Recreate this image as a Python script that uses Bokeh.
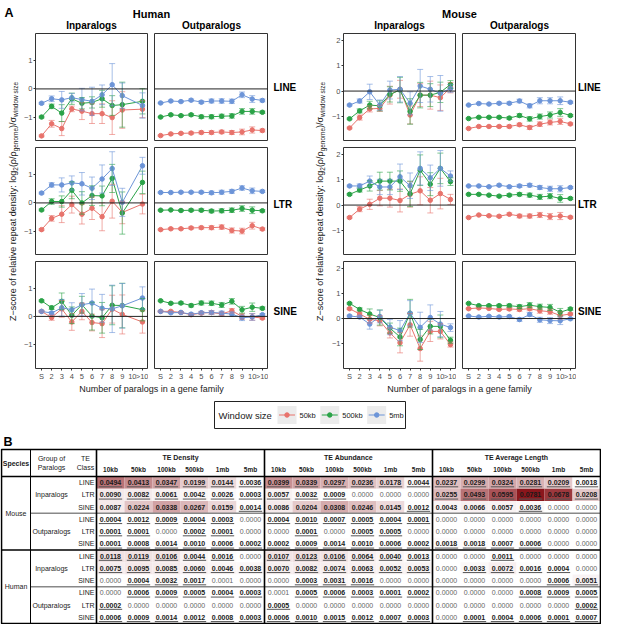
import numpy as np
from bokeh.plotting import figure
from bokeh.models import Range1d, FixedTicker, ColumnDataSource, Whisker, TeeHead, Span
from bokeh.layouts import row, column
from bokeh.embed import file_html
from bokeh.resources import INLINE
from bokeh.core.properties import value

FONT = "Liberation Sans"

# ---------------------------------------------------------------- data (panel A)
CATEGORIES = ["S", "2", "3", "4", "5", "6", "7", "8", "9", "10", ">10"]
HUMAN_IN_CATS = ["S", "2", "3", "4", "5", "6", "7", "8", "9", ">10"]
WINDOW_SIZES = ["50kb", "500kb", "5mb"]
TE_CLASSES = ["LINE", "LTR", "SINE"]
GROUPS = ["Inparalogs", "Outparalogs"]
SPECIES_A = ["Human", "Mouse"]

# Human - Inparalogs (no family of size 10)
h_in_line_50kb = [-1.67, -1.24, -1.41, -0.71, -0.79, -0.88, -0.88, -1.02, -0.75, -0.72]
h_in_line_50kb_err = [0.03, 0.12, 0.25, 0.10, 0.30, 0.35, 0.35, 0.60, 0.65, 0.30]
h_in_line_500kb = [-1.00, -0.62, -0.86, -0.35, -0.51, -0.48, -0.35, -0.59, -0.56, -0.44]
h_in_line_500kb_err = [0.03, 0.08, 0.30, 0.20, 0.20, 0.20, 0.30, 0.35, 0.80, 0.45]
h_in_line_5mb = [-0.51, -0.35, -0.39, -0.31, -0.38, -0.44, -0.21, 0.15, -0.24, -0.59]
h_in_line_5mb_err = [0.03, 0.10, 0.30, 0.15, 0.40, 0.50, 0.35, 0.75, 0.45, 0.45]

h_in_ltr_50kb = [-0.95, -0.55, -0.40, -0.06, -0.40, -0.19, -0.49, 0.06, -0.34, -0.04]
h_in_ltr_50kb_err = [0.03, 0.10, 0.30, 0.30, 0.35, 0.40, 0.50, 0.60, 0.40, 0.35]
h_in_ltr_500kb = [-0.25, 0.05, 0.05, 0.45, 0.00, 0.26, 0.25, 0.87, -0.36, 0.73]
h_in_ltr_500kb_err = [0.03, 0.10, 0.20, 0.30, 0.40, 0.35, 0.35, 0.50, 0.75, 0.40]
h_in_ltr_5mb = [0.35, 0.64, 0.64, 0.71, 0.68, 0.52, 0.85, 1.22, 0.02, 1.32]
h_in_ltr_5mb_err = [0.03, 0.08, 0.25, 0.25, 0.40, 0.40, 0.50, 0.60, 0.50, 0.30]

h_in_sine_50kb = [0.18, -0.04, 0.27, -0.20, 0.18, -0.22, -0.26, 0.26, 0.07, -0.20]
h_in_sine_50kb_err = [0.03, 0.10, 0.30, 0.30, 0.30, 0.30, 0.50, 0.50, 0.70, 0.40]
h_in_sine_500kb = [0.56, 0.31, 0.54, 0.04, 0.42, 0.01, -0.05, 0.40, 0.39, 0.24]
h_in_sine_500kb_err = [0.03, 0.06, 0.30, 0.30, 0.30, 0.50, 0.55, 0.70, 0.80, 0.40]
h_in_sine_5mb = [0.18, 0.12, 0.31, 0.24, 0.42, 0.48, 0.29, 0.27, 0.38, 0.66]
h_in_sine_5mb_err = [0.03, 0.05, 0.30, 0.25, 0.40, 0.50, 0.50, 0.85, 0.80, 0.40]

# Human - Outparalogs
h_out_line_50kb = [-1.66, -1.60, -1.58, -1.57, -1.55, -1.55, -1.53, -1.55, -1.53, -1.46, -1.48]
h_out_line_50kb_err = [0.02, 0.03, 0.03, 0.04, 0.05, 0.06, 0.06, 0.07, 0.10, 0.11, 0.05]
h_out_line_500kb = [-1.00, -0.92, -0.95, -0.92, -0.99, -0.99, -0.97, -0.96, -0.80, -0.80, -0.83]
h_out_line_500kb_err = [0.02, 0.03, 0.03, 0.04, 0.06, 0.07, 0.07, 0.08, 0.10, 0.10, 0.04]
h_out_line_5mb = [-0.50, -0.43, -0.45, -0.40, -0.47, -0.43, -0.43, -0.44, -0.21, -0.36, -0.41]
h_out_line_5mb_err = [0.02, 0.03, 0.03, 0.04, 0.05, 0.07, 0.08, 0.08, 0.10, 0.12, 0.05]

h_out_ltr_50kb = [-0.95, -0.92, -0.92, -0.89, -0.88, -0.88, -0.86, -0.98, -1.00, -0.81, -0.93]
h_out_ltr_50kb_err = [0.02, 0.03, 0.03, 0.04, 0.05, 0.07, 0.08, 0.09, 0.10, 0.12, 0.04]
h_out_ltr_500kb = [-0.26, -0.25, -0.27, -0.26, -0.26, -0.29, -0.28, -0.26, -0.20, -0.26, -0.28]
h_out_ltr_500kb_err = [0.02, 0.02, 0.03, 0.04, 0.05, 0.06, 0.07, 0.08, 0.10, 0.12, 0.04]
h_out_ltr_5mb = [0.37, 0.37, 0.38, 0.38, 0.38, 0.36, 0.38, 0.41, 0.53, 0.43, 0.41]
h_out_ltr_5mb_err = [0.02, 0.02, 0.03, 0.03, 0.04, 0.06, 0.07, 0.07, 0.08, 0.10, 0.04]

h_out_sine_50kb = [0.18, 0.18, 0.14, 0.06, 0.12, 0.14, 0.09, 0.20, 0.00, -0.02, -0.06]
h_out_sine_50kb_err = [0.02, 0.03, 0.03, 0.04, 0.05, 0.06, 0.07, 0.08, 0.10, 0.12, 0.04]
h_out_sine_500kb = [0.56, 0.47, 0.48, 0.39, 0.48, 0.47, 0.41, 0.54, 0.24, 0.33, 0.29]
h_out_sine_500kb_err = [0.02, 0.03, 0.04, 0.05, 0.07, 0.08, 0.09, 0.10, 0.12, 0.15, 0.05]
h_out_sine_5mb = [0.18, 0.13, 0.14, 0.08, 0.13, 0.14, 0.12, 0.08, -0.05, -0.02, 0.06]
h_out_sine_5mb_err = [0.02, 0.03, 0.03, 0.04, 0.05, 0.06, 0.07, 0.08, 0.10, 0.12, 0.04]

# Mouse - Inparalogs
m_in_line_50kb = [-1.45, -1.04, -0.70, -0.68, -0.16, 0.07, -0.94, -0.16, -0.16, -0.26, 0.13]
m_in_line_50kb_err = [0.03, 0.10, 0.12, 0.12, 0.35, 0.35, 0.35, 0.45, 0.55, 0.50, 0.20]
m_in_line_500kb = [-1.09, -0.78, -0.55, -0.58, -0.13, 0.04, -0.80, -0.16, -0.16, -0.05, 0.26]
m_in_line_500kb_err = [0.03, 0.08, 0.15, 0.20, 0.30, 0.50, 0.50, 0.50, 0.45, 0.40, 0.15]
m_in_line_5mb = [-0.55, -0.39, -0.03, -0.55, 0.04, 0.07, -0.48, 0.20, 0.07, -0.09, 0.10]
m_in_line_5mb_err = [0.03, 0.08, 0.30, 0.20, 0.35, 0.50, 0.45, 0.65, 0.50, 0.70, 0.15]

m_in_ltr_50kb = [-0.49, -0.16, 0.03, 0.27, 0.27, 0.18, 0.42, 0.56, 0.19, 0.45, 0.22]
m_in_ltr_50kb_err = [0.03, 0.10, 0.20, 0.30, 0.35, 0.45, 0.50, 0.55, 0.50, 0.60, 0.20]
m_in_ltr_500kb = [0.42, 0.59, 0.75, 0.94, 0.94, 0.94, 0.44, 1.37, 0.82, 1.44, 0.92]
m_in_ltr_500kb_err = [0.03, 0.08, 0.20, 0.35, 0.35, 0.40, 0.50, 0.60, 0.45, 0.60, 0.15]
m_in_ltr_5mb = [0.75, 0.75, 0.94, 0.71, 0.71, 1.11, 0.76, 1.44, 1.07, 1.44, 1.14]
m_in_ltr_5mb_err = [0.03, 0.08, 0.20, 0.30, 0.30, 0.50, 0.50, 0.65, 0.50, 0.70, 0.20]

m_in_sine_50kb = [0.39, 0.18, -0.03, -0.09, -0.57, -0.96, -0.25, -1.19, -0.51, -0.51, -1.03]
m_in_sine_50kb_err = [0.03, 0.08, 0.15, 0.20, 0.20, 0.40, 0.45, 0.50, 0.40, 0.30, 0.10]
m_in_sine_500kb = [0.60, 0.36, 0.18, 0.04, -0.38, -0.73, 0.21, -0.83, -0.31, -0.31, -0.86]
m_in_sine_500kb_err = [0.03, 0.06, 0.20, 0.30, 0.20, 0.35, 0.55, 0.40, 0.30, 0.45, 0.12]
m_in_sine_5mb = [0.10, 0.06, -0.22, 0.08, -0.34, -0.48, 0.21, -0.35, 0.04, -0.22, -0.36]
m_in_sine_5mb_err = [0.03, 0.05, 0.20, 0.25, 0.30, 0.40, 0.50, 0.60, 0.50, 0.50, 0.15]

# Mouse - Outparalogs
m_out_line_50kb = [-1.47, -1.39, -1.39, -1.39, -1.39, -1.32, -1.43, -1.30, -1.23, -1.19, -1.29]
m_out_line_50kb_err = [0.02, 0.03, 0.03, 0.04, 0.05, 0.06, 0.08, 0.09, 0.10, 0.12, 0.04]
m_out_line_500kb = [-1.08, -1.03, -1.03, -1.03, -1.06, -0.96, -1.09, -1.00, -0.94, -0.84, -0.96]
m_out_line_500kb_err = [0.02, 0.03, 0.03, 0.04, 0.05, 0.07, 0.09, 0.10, 0.12, 0.15, 0.04]
m_out_line_5mb = [-0.55, -0.49, -0.51, -0.48, -0.48, -0.39, -0.58, -0.38, -0.38, -0.38, -0.44]
m_out_line_5mb_err = [0.02, 0.03, 0.03, 0.04, 0.05, 0.07, 0.08, 0.12, 0.12, 0.15, 0.04]

m_out_ltr_50kb = [-0.49, -0.39, -0.42, -0.44, -0.36, -0.43, -0.43, -0.39, -0.45, -0.43, -0.48]
m_out_ltr_50kb_err = [0.02, 0.03, 0.03, 0.04, 0.05, 0.07, 0.08, 0.10, 0.12, 0.14, 0.04]
m_out_ltr_500kb = [0.42, 0.42, 0.39, 0.35, 0.39, 0.42, 0.39, 0.32, 0.35, 0.26, 0.26]
m_out_ltr_500kb_err = [0.02, 0.03, 0.03, 0.04, 0.05, 0.06, 0.08, 0.10, 0.10, 0.15, 0.04]
m_out_ltr_5mb = [0.75, 0.75, 0.72, 0.78, 0.72, 0.75, 0.78, 0.69, 0.64, 0.64, 0.69]
m_out_ltr_5mb_err = [0.02, 0.03, 0.03, 0.04, 0.05, 0.06, 0.07, 0.08, 0.10, 0.12, 0.04]

m_out_sine_50kb = [0.39, 0.42, 0.40, 0.36, 0.38, 0.36, 0.39, 0.31, 0.27, 0.12, 0.18]
m_out_sine_50kb_err = [0.02, 0.03, 0.03, 0.04, 0.05, 0.07, 0.08, 0.10, 0.10, 0.14, 0.04]
m_out_sine_500kb = [0.60, 0.51, 0.51, 0.51, 0.51, 0.47, 0.53, 0.47, 0.44, 0.25, 0.38]
m_out_sine_500kb_err = [0.02, 0.03, 0.04, 0.05, 0.06, 0.08, 0.10, 0.10, 0.12, 0.15, 0.05]
m_out_sine_5mb = [0.10, 0.06, 0.09, 0.06, 0.08, -0.04, 0.16, -0.05, -0.08, -0.09, -0.01]
m_out_sine_5mb_err = [0.02, 0.03, 0.03, 0.04, 0.05, 0.07, 0.08, 0.10, 0.12, 0.15, 0.04]

Y_RANGES = {"Human": (-1.87, 1.97), "Mouse": (-1.98, 2.26)}
Y_TICKS = {"Human": [-1, 0, 1], "Mouse": [-1, 0, 1, 2]}

# ---------------------------------------------------------------- data (panel B)
TABLE_SPECIES = ["Mouse", "Human"]
TABLE_GROUPS = ["Inparalogs", "Outparalogs"]
TABLE_METRICS = ["TE Density", "TE Abundance", "TE Average Length"]
TABLE_WINDOWS = ["10kb", "50kb", "100kb", "500kb", "1mb", "5mb"]
# rows: Mouse In LINE/LTR/SINE, Mouse Out LINE/LTR/SINE, Human In ..., Human Out ...
te_density = [
    [0.0494, 0.0413, 0.0347, 0.0199, 0.0144, 0.0036],
    [0.0090, 0.0082, 0.0061, 0.0042, 0.0026, 0.0003],
    [0.0087, 0.0224, 0.0338, 0.0267, 0.0159, 0.0014],
    [0.0004, 0.0012, 0.0009, 0.0004, 0.0003, 0.0000],
    [0.0001, 0.0001, 0.0000, 0.0002, 0.0001, 0.0000],
    [0.0001, 0.0008, 0.0014, 0.0010, 0.0006, 0.0002],
    [0.0118, 0.0119, 0.0106, 0.0044, 0.0016, 0.0000],
    [0.0075, 0.0095, 0.0085, 0.0060, 0.0046, 0.0038],
    [0.0000, 0.0004, 0.0032, 0.0017, 0.0001, 0.0000],
    [0.0000, 0.0006, 0.0009, 0.0005, 0.0004, 0.0003],
    [0.0002, 0.0000, 0.0000, 0.0000, 0.0000, 0.0000],
    [0.0006, 0.0009, 0.0014, 0.0012, 0.0008, 0.0003],
]
te_abundance = [
    [0.0399, 0.0339, 0.0297, 0.0236, 0.0178, 0.0044],
    [0.0057, 0.0032, 0.0009, 0.0000, 0.0000, 0.0000],
    [0.0086, 0.0204, 0.0308, 0.0246, 0.0145, 0.0012],
    [0.0004, 0.0010, 0.0007, 0.0005, 0.0004, 0.0001],
    [0.0000, 0.0001, 0.0000, 0.0005, 0.0005, 0.0000],
    [0.0002, 0.0009, 0.0014, 0.0010, 0.0006, 0.0002],
    [0.0107, 0.0123, 0.0106, 0.0064, 0.0040, 0.0013],
    [0.0070, 0.0082, 0.0074, 0.0063, 0.0052, 0.0053],
    [0.0000, 0.0003, 0.0031, 0.0016, 0.0000, 0.0000],
    [0.0001, 0.0005, 0.0006, 0.0003, 0.0001, 0.0002],
    [0.0005, 0.0000, 0.0000, 0.0000, 0.0000, 0.0000],
    [0.0006, 0.0010, 0.0015, 0.0012, 0.0007, 0.0003],
]
te_avg_length = [
    [0.0237, 0.0299, 0.0324, 0.0281, 0.0209, 0.0018],
    [0.0255, 0.0493, 0.0595, 0.0781, 0.0678, 0.0208],
    [0.0043, 0.0066, 0.0057, 0.0036, 0.0000, 0.0000],
    [0.0000, 0.0000, 0.0000, 0.0000, 0.0000, 0.0000],
    [0.0000, 0.0000, 0.0000, 0.0000, 0.0000, 0.0000],
    [0.0018, 0.0018, 0.0007, 0.0006, 0.0000, 0.0000],
    [0.0000, 0.0000, 0.0011, 0.0000, 0.0000, 0.0000],
    [0.0000, 0.0033, 0.0072, 0.0016, 0.0004, 0.0000],
    [0.0000, 0.0000, 0.0000, 0.0000, 0.0006, 0.0051],
    [0.0000, 0.0000, 0.0000, 0.0008, 0.0009, 0.0005],
    [0.0000, 0.0000, 0.0000, 0.0000, 0.0000, 0.0002],
    [0.0000, 0.0001, 0.0004, 0.0006, 0.0001, 0.0007],
]
# non-zero values printed in plain type (metric, row, column)
plain_nonzero = [(0, 8, 4), (1, 9, 0)]
# bold values printed without underline
no_underline = [(0, 2, 0), (0, 2, 1), (0, 2, 2), (0, 2, 3), (0, 2, 4),
                (1, 2, 0), (1, 2, 1), (1, 2, 2), (1, 2, 3), (1, 2, 4),
                (2, 2, 0), (2, 2, 1), (2, 2, 2)]

# ---------------------------------------------------------------- style
COLORS = ["#e8736c", "#2ba348", "#6d95d8"]
TEXT_DARK = "#1a1a1a"

SERIES = {
    ("Human", "Inparalogs", "LINE"): (HUMAN_IN_CATS, [h_in_line_50kb, h_in_line_500kb, h_in_line_5mb], [h_in_line_50kb_err, h_in_line_500kb_err, h_in_line_5mb_err]),
    ("Human", "Inparalogs", "LTR"): (HUMAN_IN_CATS, [h_in_ltr_50kb, h_in_ltr_500kb, h_in_ltr_5mb], [h_in_ltr_50kb_err, h_in_ltr_500kb_err, h_in_ltr_5mb_err]),
    ("Human", "Inparalogs", "SINE"): (HUMAN_IN_CATS, [h_in_sine_50kb, h_in_sine_500kb, h_in_sine_5mb], [h_in_sine_50kb_err, h_in_sine_500kb_err, h_in_sine_5mb_err]),
    ("Human", "Outparalogs", "LINE"): (CATEGORIES, [h_out_line_50kb, h_out_line_500kb, h_out_line_5mb], [h_out_line_50kb_err, h_out_line_500kb_err, h_out_line_5mb_err]),
    ("Human", "Outparalogs", "LTR"): (CATEGORIES, [h_out_ltr_50kb, h_out_ltr_500kb, h_out_ltr_5mb], [h_out_ltr_50kb_err, h_out_ltr_500kb_err, h_out_ltr_5mb_err]),
    ("Human", "Outparalogs", "SINE"): (CATEGORIES, [h_out_sine_50kb, h_out_sine_500kb, h_out_sine_5mb], [h_out_sine_50kb_err, h_out_sine_500kb_err, h_out_sine_5mb_err]),
    ("Mouse", "Inparalogs", "LINE"): (CATEGORIES, [m_in_line_50kb, m_in_line_500kb, m_in_line_5mb], [m_in_line_50kb_err, m_in_line_500kb_err, m_in_line_5mb_err]),
    ("Mouse", "Inparalogs", "LTR"): (CATEGORIES, [m_in_ltr_50kb, m_in_ltr_500kb, m_in_ltr_5mb], [m_in_ltr_50kb_err, m_in_ltr_500kb_err, m_in_ltr_5mb_err]),
    ("Mouse", "Inparalogs", "SINE"): (CATEGORIES, [m_in_sine_50kb, m_in_sine_500kb, m_in_sine_5mb], [m_in_sine_50kb_err, m_in_sine_500kb_err, m_in_sine_5mb_err]),
    ("Mouse", "Outparalogs", "LINE"): (CATEGORIES, [m_out_line_50kb, m_out_line_500kb, m_out_line_5mb], [m_out_line_50kb_err, m_out_line_500kb_err, m_out_line_5mb_err]),
    ("Mouse", "Outparalogs", "LTR"): (CATEGORIES, [m_out_ltr_50kb, m_out_ltr_500kb, m_out_ltr_5mb], [m_out_ltr_50kb_err, m_out_ltr_500kb_err, m_out_ltr_5mb_err]),
    ("Mouse", "Outparalogs", "SINE"): (CATEGORIES, [m_out_sine_50kb, m_out_sine_500kb, m_out_sine_5mb], [m_out_sine_50kb_err, m_out_sine_500kb_err, m_out_sine_5mb_err]),
}

_W = {' ': 278, '(': 333, ')': 333, '/': 278, ':': 278, '\u2212': 584, '-': 333, 'Z': 611,
      'ρ': 570, 'σ': 600, 'i': 222, 'l': 222, 'f': 278, 't': 278, 'r': 333, 'm': 833,
      'w': 722, 'c': 500, 's': 500, 'v': 500, 'y': 500, 'z': 500, 'k': 500, 'j': 222,
      'W': 944, 'N': 722}


def text_w(s, size):
    return sum(_W.get(ch, 556) for ch in s) * size / 1000.0


def text_fig(w, h):
    p = figure(width=w, height=h, x_range=Range1d(0, w), y_range=Range1d(0, h),
               toolbar_location=None, output_backend="svg", min_border=0,
               x_axis_location=None, y_axis_location=None)
    p.grid.visible = False
    p.outline_line_color = None
    p.background_fill_color = "white"
    p.border_fill_color = "white"
    return p


def put_text(p, x, y, t, size, bold=False, align="center", color=TEXT_DARK, angle=0.0, baseline="middle"):
    p.text(x=x, y=y, text=t, angle=angle, text_font=value(FONT), text_font_size=f"{size}px",
           text_font_style="bold" if bold else "normal", text_align=align,
           text_baseline=baseline, text_color=color)


# layout constants (px)
FRAME_W, FRAME_H, GAP, LEFT_AX, BOTTOM_AX = 114, 108, 6, 14, 14
H_YLAB_W, M_YLAB_W, H_STRIP_W, M_STRIP_W = 20, 28, 32, 25
TOTAL_W = 601


def make_panel(species, group, te, r, c):
    left = c == 0
    bottom = r == 2
    top_gap = 0 if r == 0 else GAP
    mb_left = LEFT_AX if left else GAP
    mb_bottom = BOTTOM_AX if bottom else 0
    w = mb_left + FRAME_W
    h = top_gap + FRAME_H + mb_bottom
    p = figure(width=w, height=h, x_range=Range1d(-0.6, len(CATEGORIES) - 0.4),
               y_range=Range1d(*Y_RANGES[species]), toolbar_location=None, output_backend="svg",
               min_border_left=mb_left, min_border_right=0, min_border_top=top_gap,
               min_border_bottom=mb_bottom,
               x_axis_location="below" if bottom else None,
               y_axis_location="left" if left else None)
    p.grid.visible = False
    p.outline_line_color = "#333333"
    p.outline_line_width = 1
    p.background_fill_color = "white"
    p.border_fill_color = "white"
    for ax in p.axis:
        ax.axis_line_color = None
        ax.major_tick_line_color = "#333333"
        ax.major_tick_in = 0
        ax.major_tick_out = 2
        ax.minor_tick_line_color = None
        ax.major_label_text_font = FONT
        ax.major_label_text_font_size = "7.5px"
        ax.major_label_text_color = "#4d4d4d"
        ax.major_label_standoff = 1
    if left:
        ticks = Y_TICKS[species]
        p.yaxis.ticker = FixedTicker(ticks=ticks)
        p.yaxis.major_label_overrides = {t: (f"\u2212{abs(t)}" if t < 0 else str(t)) for t in ticks}
    if bottom:
        p.xaxis.ticker = FixedTicker(ticks=list(range(len(CATEGORIES))))
        p.xaxis.major_label_overrides = {i: lab for i, lab in enumerate(CATEGORIES)}

    p.add_layout(Span(location=0, dimension="width", line_color="#222222", line_width=1))
    cats, vals, errs = SERIES[(species, group, te)]
    xs = [CATEGORIES.index(k) for k in cats]
    sources = []
    for v, e in zip(vals, errs):
        sources.append(ColumnDataSource(dict(x=xs, y=v, upper=[a + b for a, b in zip(v, e)],
                                             lower=[a - b for a, b in zip(v, e)])))
    for src, col in zip(sources, COLORS):
        wk = Whisker(source=src, base="x", upper="upper", lower="lower", dimension="height",
                     line_color=col, line_alpha=0.6, line_width=1, level="glyph",
                     upper_head=TeeHead(size=6, line_color=col, line_alpha=0.6, line_width=1),
                     lower_head=TeeHead(size=6, line_color=col, line_alpha=0.6, line_width=1))
        p.add_layout(wk)
    for src, col in zip(sources, COLORS):
        p.line("x", "y", source=src, line_color=col, line_width=1)
    for src, col in zip(sources, COLORS):
        p.scatter("x", "y", source=src, size=4.5, fill_color=col, line_color=col)
    return p


def strip_fig(w, h, label, r, x0):
    p = text_fig(w, h)
    bottom = BOTTOM_AX if r == 2 else 0
    put_text(p, [x0], [bottom + FRAME_H / 2], [label], 10, bold=True, align="left", color="black")
    return p


def ylabel_fig(w, h, cx):
    p = text_fig(w, h)
    pieces = [("Z\u2212score of relative repeat density: log", 9, False), ("2", 6.5, True),
              ("(ρ/ρ", 9, False), ("genome", 6.5, True), (")/σ", 9, False), ("window size", 6.5, True)]
    total = sum(text_w(t, s) for t, s, _ in pieces)
    cy = h - (FRAME_H * 3 + GAP * 2) / 2
    y = cy - total / 2
    for t, s, sub in pieces:
        put_text(p, [cx + (2.5 if sub else 0)], [y], [t], s, align="left", angle=np.pi / 2)
        y += text_w(t, s)
    return p


def species_block(species, strip_w, strip_x):
    rows = []
    for r, te in enumerate(TE_CLASSES):
        p1 = make_panel(species, GROUPS[0], te, r, 0)
        p2 = make_panel(species, GROUPS[1], te, r, 1)
        s = strip_fig(strip_w, p2.height, te, r, strip_x)
        rows.append(row(p1, p2, s, spacing=0))
    return column(*rows, spacing=0)


PANEL_H = FRAME_H * 3 + GAP * 2 + BOTTOM_AX
h_block = species_block("Human", H_STRIP_W, 5)
m_block = species_block("Mouse", M_STRIP_W, 1.5)
h_ylab = ylabel_fig(H_YLAB_W, PANEL_H, 12)
m_ylab = ylabel_fig(M_YLAB_W, PANEL_H, 19)
panels = row(h_ylab, h_block, m_ylab, m_block, spacing=0)

# frame centres
h_c1 = H_YLAB_W + LEFT_AX + FRAME_W / 2
h_c2 = H_YLAB_W + LEFT_AX + FRAME_W + GAP + FRAME_W / 2
m_off = H_YLAB_W + LEFT_AX + FRAME_W + GAP + FRAME_W + H_STRIP_W + M_YLAB_W
m_c1 = m_off + LEFT_AX + FRAME_W / 2
m_c2 = m_off + LEFT_AX + FRAME_W + GAP + FRAME_W / 2

title_f = text_fig(TOTAL_W, 20)
put_text(title_f, [4], [7.5], ["A"], 12.5, bold=True, align="left", color="black")
put_text(title_f, [(h_c1 + h_c2) / 2, (m_c1 + m_c2) / 2], [7, 7], SPECIES_A, 11, bold=True, color="black")

header_f = text_fig(TOTAL_W, 13)
put_text(header_f, [h_c1, h_c2, m_c1, m_c2], [8.5] * 4, GROUPS * 2, 10, bold=True, color="black")

xlab_f = text_fig(TOTAL_W, 12)
put_text(xlab_f, [(h_c1 + h_c2) / 2, (m_c1 + m_c2) / 2], [7, 7],
         ["Number of paralogs in a gene family"] * 2, 9)

# legend
LEG_H = 39
leg_f = text_fig(TOTAL_W, LEG_H)
leg_cy = 19.5
leg_f.quad(left=[214], right=[405], top=[33], bottom=[6], fill_color=None, line_color="#222222", line_width=1)
put_text(leg_f, [218], [leg_cy], ["Window size"], 9.5, align="left")
kx = 277
for ws, col in zip(WINDOW_SIZES, COLORS):
    leg_f.rect(x=[kx + 9.5], y=[leg_cy], width=19, height=18, fill_color="#ececec", line_color=None)
    leg_f.segment(x0=[kx + 1.5], y0=[leg_cy], x1=[kx + 17.5], y1=[leg_cy], line_color=col, line_width=1)
    leg_f.scatter(x=[kx + 9.5], y=[leg_cy], size=4.5, fill_color=col, line_color=col)
    put_text(leg_f, [kx + 22], [leg_cy], [ws], 7.5, align="left")
    kx += 22 + text_w(ws, 7.5) + 4.5

# ---------------------------------------------------------------- table (panel B)
TH = 190
tbl = text_fig(TOTAL_W, TH)
put_text(tbl, [3], [183], ["B"], 12.5, bold=True, align="left", color="black")
x_left = 1
label_widths = [29, 42, 24]
val_w = 28
top = 175
hdr = 27
rh = 12.25
edges = [x_left]
for lw in label_widths:
    edges.append(edges[-1] + lw)
vx0 = edges[-1]
n_rows = len(te_density)
x_right = vx0 + val_w * len(TABLE_WINDOWS) * len(TABLE_METRICS)
bottom_y = top - hdr - rh * n_rows
metrics = [te_density, te_abundance, te_avg_length]
vmax = max(max(max(r) for r in m) for m in metrics)


def cell_color(v):
    t = min(v / vmax, 1.0) ** 1.1
    r = round(255 + (139 - 255) * t)
    g = round(255 + (22 - 255) * t)
    b = round(255 + (28 - 255) * t)
    return f"#{r:02x}{g:02x}{b:02x}"


cx_l, cy_l, fc_l = [], [], []
bold_x, bold_y, bold_t = [], [], []
pl_x, pl_y, pl_t = [], [], []
ul_x0, ul_x1, ul_y = [], [], []
for m, mat in enumerate(metrics):
    for r in range(n_rows):
        for c in range(len(TABLE_WINDOWS)):
            v = mat[r][c]
            j = m * len(TABLE_WINDOWS) + c
            cx = vx0 + val_w * (j + 0.5)
            cy = top - hdr - rh * (r + 0.5)
            cx_l.append(cx)
            cy_l.append(cy)
            fc_l.append(cell_color(v))
            txt = f"{v:.4f}"
            if v > 0 and (m, r, c) not in plain_nonzero:
                bold_x.append(cx); bold_y.append(cy); bold_t.append(txt)
                if (m, r, c) not in no_underline:
                    hw = text_w(txt, 7) / 2
                    ul_x0.append(cx - hw); ul_x1.append(cx + hw); ul_y.append(cy - 4.2)
            else:
                pl_x.append(cx); pl_y.append(cy); pl_t.append(txt)

tbl.rect(x=cx_l, y=cy_l, width=val_w, height=rh, fill_color=fc_l, line_color=None)
tbl.segment(x0=ul_x0, y0=ul_y, x1=ul_x1, y1=ul_y, line_color="#555555", line_width=1)
put_text(tbl, bold_x, bold_y, bold_t, 7, bold=True, color="#1a1a1a")
put_text(tbl, pl_x, pl_y, pl_t, 7, color="#666666")

# headers
mx = [vx0 + val_w * (6 * m + 3) for m in range(len(TABLE_METRICS))]
put_text(tbl, mx, [top - 7.5] * 3, TABLE_METRICS, 7, bold=True, color="#1a1a1a")
wx = [vx0 + val_w * (j + 0.5) for j in range(18)]
put_text(tbl, wx, [top - 20] * 18, TABLE_WINDOWS * 3, 6.5, bold=True, color="#1a1a1a")
c0 = (edges[0] + edges[1]) / 2
c1 = (edges[1] + edges[2]) / 2
c2 = (edges[2] + edges[3]) / 2 + 1
put_text(tbl, [c0], [top - hdr / 2], ["Species"], 7, bold=True, color="#1a1a1a")
put_text(tbl, [c1, c1, c2, c2], [top - 9, top - 18, top - 9, top - 18],
         ["Group of", "Paralogs", "TE", "Class"], 7, color="#222222")
# row labels
put_text(tbl, [c0, c0], [top - hdr - 3 * rh, top - hdr - 9 * rh], TABLE_SPECIES, 7, color="#222222")
gy = [top - hdr - rh * (3 * k + 1.5) for k in range(4)]
put_text(tbl, [c1] * 4, gy, TABLE_GROUPS * 2, 7, color="#222222")
ty = [top - hdr - rh * (r + 0.5) for r in range(n_rows)]
put_text(tbl, [edges[3] - 2] * n_rows, ty, TE_CLASSES * 4, 7, align="right", color="#222222")

# rules
sub_y = [top - hdr - 3 * rh, top - hdr - 9 * rh]
tbl.segment(x0=[edges[1]] * 2, x1=[x_right] * 2, y0=sub_y, y1=sub_y,
            line_color="#888888", line_width=1.3)
main_y = [top - hdr, top - hdr - 6 * rh]
tbl.segment(x0=[x_left] * 2, x1=[x_right] * 2, y0=main_y, y1=main_y,
            line_color="black", line_width=1.6)
tbl.segment(x0=[edges[1]], x1=[edges[1]], y0=[bottom_y], y1=[top], line_color="black", line_width=1)
vxs = [vx0, vx0 + val_w * 6, vx0 + val_w * 12]
tbl.segment(x0=vxs, x1=vxs, y0=[bottom_y] * 3, y1=[top] * 3, line_color="black", line_width=1.6)
tbl.quad(left=[x_left], right=[x_right], top=[top], bottom=[bottom_y], fill_color=None,
         line_color="black", line_width=1.6)

layout = column(title_f, header_f, panels, xlab_f, leg_f, tbl, spacing=0)

with open("out.html", "w") as f:
    f.write(file_html(layout, INLINE, title="TE density around paralogs"))
